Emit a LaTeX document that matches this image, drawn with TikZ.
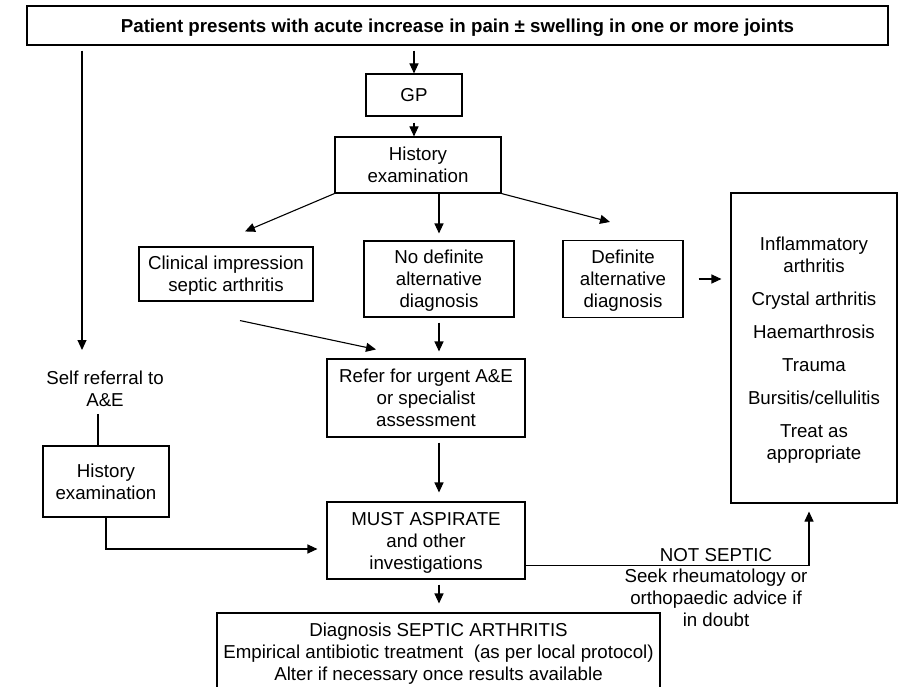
\documentclass[tikz,border=0pt]{standalone}
\usepackage{fontspec}
\setmainfont{Liberation Sans}
\usetikzlibrary{arrows.meta,calc}

\begin{document}
\begin{tikzpicture}[x=1pt,y=-1pt,line width=1.1pt,
  >={Triangle[length=10pt,width=9pt]},
  font=\fontsize{18.7}{22}\selectfont,
  box node/.style={rectangle,draw,align=center,inner sep=0pt,text depth=0pt},
  text node/.style={align=center}]

\useasboundingbox (0,0) rectangle (907,687);

  \node[box node,font=\fontsize{18.7}{22}\selectfont\bfseries,minimum width=861pt,minimum height=39pt] (11) at (457.5,25.5) {Patient presents with acute increase in pain ± swelling in one or more joints};
   \node[box node,minimum width=96pt,minimum height=42pt] (21) at (414,95) {GP};
    \node[box node,minimum width=166pt,minimum height=56pt] (31) at (418,165) {History\\examination};
  \node[box node,minimum width=174pt,minimum height=54pt] (41) at (226,274) {Clinical impression\\septic arthritis};
  \node[box node,minimum width=150pt,minimum height=76pt] (42) at (439,279) {No definite\\alternative\\diagnosis};
  \node[box node,minimum width=120pt,minimum height=77pt] (43) at (623,279) {Definite\\alternative\\diagnosis};
  \node[box node,minimum width=166pt,minimum height=310pt] (44) at (814,348) {Inflammatory\\arthritis\\[11pt]Crystal arthritis\\[11pt]Haemarthrosis\\[11pt]Trauma\\[11pt]Bursitis/cellulitis\\[11pt]Treat as\\appropriate};
    \node[text node] (51) at (105,389) {Self referral to\\A\&E};
  \node[box node,minimum width=198pt,minimum height=78pt] (52) at (426,398) {Refer for urgent A\&E\\or specialist\\assessment};
    \node[box node,minimum width=126pt,minimum height=71pt] (61) at (106,481.5) {History\\examination};
  \node[box node,minimum width=198pt,minimum height=77pt] (62) at (426,540.5) {MUST ASPIRATE\\and other\\investigations};
\begin{scope}
  \clip (0,0) rectangle (907,687);
  \node[box node,minimum width=443pt,minimum height=78pt] (71) at (438.5,652) {Diagnosis SEPTIC ARTHRITIS\\Empirical antibiotic treatment\ \ (as per local protocol)\\Alter if necessary once results available};
\end{scope}

  \coordinate (a1) at (82,350);
  \coordinate (c61) at ($(61.north)+(-8,0)$);

  \draw [->,shorten <=5pt] (a1 |- 11.south) -- (a1);
  \draw [->,shorten <=5pt] (21 |- 11.south) -- (21.north);
    \draw [->,shorten <=6pt] (21.south) -- (21.south |- 31.north);
  \draw [->] (31.south west) -- ($(41.north)+(19,-15)$);
  \draw [->,shorten >=7pt] (42.north |- 31.south) -- (42.north);
  \draw [->] (31.south east) -- ($(43.north)+(-13,-18)$);
        \draw [->,shorten <=15pt,shorten >=9pt] (43.east) -- (43.east -| 44.west);
  \draw [->] ($(41.south)+(14,19)$) -- ($(52.north)+(-50,-9)$);
  \draw [->,shorten <=5pt,shorten >=7pt] (42.south) -- (42.south |- 52.north);
  \draw [->,shorten <=5pt,shorten >=9pt] (42.south |- 52.south) -- (42.south |- 62.north);
  \draw [->,shorten <=5pt,shorten >=9pt] (42.south |- 62.south) -- (42.south |- 71.north);
    \draw [shorten <=3pt] (c61 |- 51.south) -- (c61);
    \draw [->,shorten >=9pt] (61.south) |- ($(62.west)+(0,8.5)$);
  \draw [->,shorten >=8pt] ($(62.south east)+(0,-14)$) -| ($(44.south)+(-5,0)$)
     node [pos=0.336,above] {NOT SEPTIC}
     node [pos=0.336,below,text node] {Seek rheumatology or\\orthopaedic advice if\\in doubt};
\end{tikzpicture}
\end{document}
